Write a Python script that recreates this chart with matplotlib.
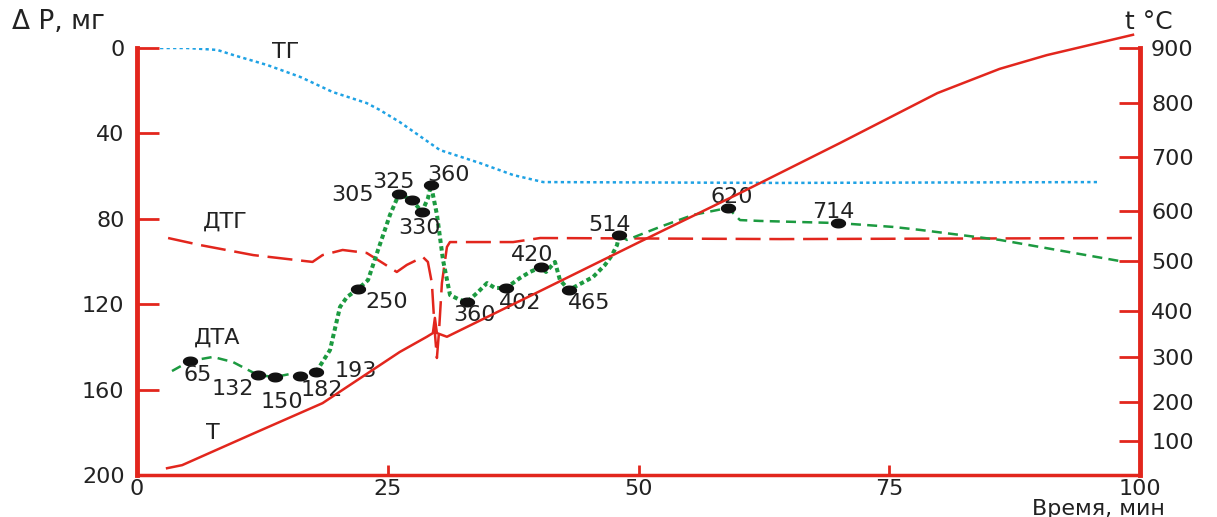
import numpy as np
import matplotlib
matplotlib.use('Agg')
import matplotlib.pyplot as plt
from matplotlib.path import Path

# ---- thermogram data (time in min) ----
# TG: mass loss, mg
tg_time = [2.3, 5.0, 8.0, 9.6, 13.0, 16.3, 19.5, 22.9, 24.2, 26.2, 30.2, 34.2, 37.5, 40.5, 64.1, 96.0]
tg_loss = [0, 0, 0.9, 3.3, 8.0, 13.6, 20.6, 25.8, 29.0, 34.7, 47.8, 53.9, 59.5, 62.8, 63.2, 62.8]

# DTG, drawn on the mass axis
dtg_time = [3.1, 6.3, 11.6, 17.5, 18.5, 20.5, 22.9, 24.5, 25.9, 26.9, 28.5, 29.0, 29.4, 29.7,
            29.9, 30.1, 30.4, 30.9, 31.2, 37.5, 40.2, 64.1, 100]
dtg_val = [89.0, 92.3, 97.0, 100.2, 97.0, 94.6, 96.0, 100.7, 104.9, 101.6, 97.9, 100.2, 110.1, 133.5,
           145.2, 133.5, 110.1, 93.2, 90.9, 90.9, 89.0, 89.5, 89.0]

# DTA, drawn on the mass axis
dta_time = [3.49, 5.28, 7.58, 9.57, 12.06, 13.76, 15.25, 16.25, 17.85, 19.24, 20.24, 20.94, 22.03,
            23.03, 24.03, 25.22, 26.12, 27.42, 28.41, 29.01, 29.31, 29.91, 30.51, 31.21, 32.20,
            32.90, 34.00, 34.90, 35.69, 36.79, 38.19, 39.18, 40.28, 40.78, 41.67, 42.17, 43.07,
            45.46, 46.66, 47.36, 47.86, 48.06, 48.85, 52.14, 55.43, 58.92, 59.32, 60.12, 62.11,
            69.89, 75.37, 78.07, 86.04, 98.0]
dta_val = [151.3, 146.6, 144.7, 147.1, 153.2, 154.1, 152.7, 153.6, 151.8, 141.5, 121.3, 116.6, 112.9,
           108.7, 94.6, 78.2, 68.4, 71.2, 76.8, 70.3, 64.2, 78.2, 99.3, 115.7, 118.0,
           119.0, 114.3, 110.1, 112.4, 112.4, 107.7, 104.9, 102.6, 104.9, 100.2, 108.7, 113.3,
           107.3, 101.6, 97.0, 92.3, 87.6, 89.9, 83.8, 78.2, 74.9, 76.8, 80.6, 81.0,
           82.0, 83.8, 85.2, 89.9, 99.8]

# marked DTA points and their temperatures, °C
peak_label = ['65', '132', '150', '182', '193', '250', '305', '325', '330', '360',
              '360', '402', '420', '465', '514', '620', '714']
peak_time = [5.28, 12.06, 13.76, 16.25, 17.85, 22.03, 26.12, 27.42, 28.41, 29.31,
             32.90, 36.79, 40.28, 43.07, 48.06, 58.92, 69.89]
peak_val = [146.6, 153.2, 154.1, 153.6, 151.8, 112.9, 68.4, 71.2, 76.8, 64.2,
            119.0, 112.4, 102.6, 113.3, 87.6, 74.9, 82.0]

# furnace temperature, °C
t_time = [3.0, 4.5, 11.5, 18.5, 26.2, 28.9, 29.5, 29.7, 29.9, 30.9, 40.2, 50.1, 60.1,
          70.1, 79.8, 86.0, 90.7, 99.3]
t_temp = [20, 29, 118, 197, 311, 344, 352, 385, 352, 344, 440, 538, 633,
          726, 818, 862, 887, 924]

# temperature axis is not uniform: tick value -> fraction of axis height
temp_ticks = [0, 100, 200, 300, 400, 500, 600, 700, 800, 900, 1000]
temp_frac = [0, 0.0796, 0.1710, 0.2763, 0.3841, 0.5012, 0.6183, 0.7447, 0.8712, 1.0, 1.129]

# label offsets (pixels) for the marked points
label_dx = [8, -25, 7, 22, 40, 29, -46, -19, -2, 18, 8, 14, -9, 20, -9, 4, -5]
label_dy = [-14, -14, -25, -14, 1, -13, -1, 18, -16, 10, -13, -15, 12, -13, 10, 11, 11]

RED = '#e2261d'
GREEN = '#1c9a40'
BLUE = '#1fa2e4'
INK = '#222222'
FS = 16

plt.rcParams['font.family'] = ['DejaVu Sans']

fig = plt.figure(figsize=(12.17, 5.17), dpi=100)
ax = fig.add_axes([137 / 1217, 42 / 517, 1003 / 1217, 427 / 517])
ax2 = ax.twinx()


def fwd(t):
    return np.interp(t, temp_ticks, temp_frac)


def inv(u):
    return np.interp(u, temp_frac, temp_ticks)


ax2.set_yscale('function', functions=(fwd, inv))

# TG
ax.plot(tg_time, tg_loss, color=BLUE, lw=1.8, dashes=(1.3, 1.3), zorder=2)
# DTG
ax.plot(dtg_time, dtg_val, color=RED, lw=1.8, dashes=(10, 3.5), zorder=3)

# DTA: dashed outside the main reaction zone, dotted inside it
i0 = dta_time.index(17.85)
i1 = dta_time.index(48.06)
ax.plot(dta_time[:i0 + 1], dta_val[:i0 + 1], color=GREEN, lw=1.8, dashes=(4, 2.5), zorder=4)
ax.plot(dta_time[i0:i1 + 1], dta_val[i0:i1 + 1], color=GREEN, lw=2.9, dashes=(1.1, 0.8), zorder=4)
ax.plot(dta_time[i1:], dta_val[i1:], color=GREEN, lw=1.8, dashes=(4, 2.5), zorder=4)

# black oval markers on the marked points
th = np.linspace(0, 2 * np.pi, 40)
oval = Path(np.column_stack([np.cos(th), 0.62 * np.sin(th)]))
ax.plot(peak_time, peak_val, ls='none', marker=oval, ms=10, color='#111111', zorder=5)
for lab, x, y, dx, dy in zip(peak_label, peak_time, peak_val, label_dx, label_dy):
    ax.annotate(lab, (x, y), xytext=(dx, dy), textcoords='offset pixels',
                ha='center', va='center', fontsize=FS, color=INK, zorder=6)

# temperature curve
ax2.plot(t_time, t_temp, color=RED, lw=1.8, clip_on=False, zorder=3)

# curve names
ax.text(14.8, 1.9, 'ТГ', fontsize=FS, color=INK, ha='center', va='center')
ax.text(8.8, 81.5, 'ДТГ', fontsize=FS, color=INK, ha='center', va='center')
ax.text(8.0, 135.8, 'ДТА', fontsize=FS, color=INK, ha='center', va='center')
ax.text(7.6, 180.3, 'Т', fontsize=FS, color=INK, ha='center', va='center')

# axes
ax.set_xlim(0, 100)
ax.set_ylim(200, 0)
ax.set_xticks([0, 25, 50, 75, 100])
ax.set_yticks([0, 40, 80, 120, 160, 200])
ax2.set_ylim(0, 900)
ax2.set_yticks([100, 200, 300, 400, 500, 600, 700, 800, 900])
ax2.minorticks_off()

for s in ['top', 'right']:
    ax.spines[s].set_visible(False)
for s in ['top', 'left', 'bottom']:
    ax2.spines[s].set_visible(False)
ax.spines['left'].set_color(RED)
ax.spines['left'].set_linewidth(3.5)
ax.spines['bottom'].set_color(RED)
ax.spines['bottom'].set_linewidth(2.5)
ax2.spines['right'].set_color(RED)
ax2.spines['right'].set_linewidth(3.5)

ax.tick_params(axis='y', direction='in', length=16, width=2, color=RED, pad=9,
               labelsize=FS, labelcolor=INK)
ax.tick_params(axis='x', direction='in', length=7, width=2, color=RED, pad=3,
               labelsize=FS, labelcolor=INK)
ax2.tick_params(axis='y', direction='in', length=15, width=2, color=RED, pad=8,
                labelsize=FS, labelcolor=INK)

fig.text(12 / 1217, 1 - 22 / 517, 'Δ P, мг', fontsize=19, color=INK, ha='left', va='center')
fig.text(1125 / 1217, 1 - 22 / 517, 't °C', fontsize=18, color=INK, ha='left', va='center')
fig.text(1165 / 1217, 1 - 499 / 517, 'Время, мин', fontsize=FS, color=INK, ha='right', va='top')

fig.savefig('out.png', dpi=100)
